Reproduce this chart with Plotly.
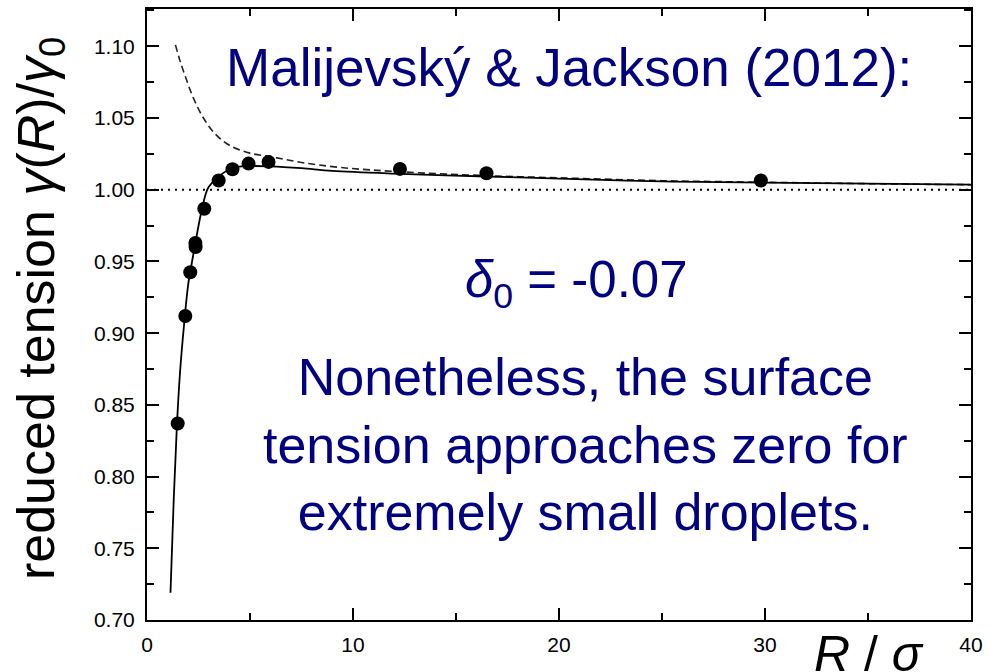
import plotly.graph_objects as go

# Simulation data: reduced surface tension vs droplet radius
R_sim = [1.49, 1.86, 2.10, 2.35, 2.36, 2.78, 3.48, 4.15, 4.93, 5.90, 12.28, 16.48, 29.80]
gamma_sim = [0.837, 0.912, 0.9425, 0.9628, 0.9600, 0.9867, 1.0064, 1.0143, 1.0182, 1.0194, 1.0145, 1.0115, 1.0064]

# Fitted curve (solid)
R_fit = [1.14, 1.30, 1.45, 1.60, 1.80, 2.00, 2.20, 2.40, 2.60, 2.85, 3.00, 3.50, 4.20,
         5.00, 6.00, 7.50, 9.00, 12.30, 16.50, 20.0, 25.0, 30.0, 35.0, 40.0]
gamma_fit = [0.719, 0.785, 0.835, 0.872, 0.906, 0.934, 0.951, 0.967, 0.982, 0.997, 1.002,
             1.0095, 1.0155, 1.0165, 1.0163, 1.0150, 1.0131, 1.0111, 1.0092, 1.0078,
             1.0058, 1.0050, 1.0042, 1.0035]

# Tolman-type asymptotic curve (dashed)
R_tol = [1.38, 1.60, 1.86, 2.25, 2.74, 3.30, 4.00, 5.00, 6.10, 7.50, 9.40, 12.3,
         16.5, 20.0, 25.0, 30.0, 35.0, 40.0]
gamma_tol = [1.101, 1.090, 1.079, 1.064, 1.050, 1.039, 1.031, 1.0255, 1.0228, 1.019,
             1.0155, 1.0125, 1.0098, 1.0083, 1.0063, 1.0052, 1.0042, 1.0035]

# Planar limit
R_ref = [0, 40]
gamma_ref = [1.0, 1.0]

x_ticks = [0, 10, 20, 30, 40]
y_ticks = [0.70, 0.75, 0.80, 0.85, 0.90, 0.95, 1.00, 1.05, 1.10]

FONT = "Arial, Liberation Sans, sans-serif"
NAVY = "#000080"

fig = go.Figure()
fig.add_trace(go.Scatter(x=R_ref, y=gamma_ref, mode="lines",
                         line=dict(color="black", width=2, dash="2px,5px")))
fig.add_trace(go.Scatter(x=R_tol, y=gamma_tol, mode="lines", line_shape="spline",
                         line=dict(color="#222222", width=1.6, dash="7px,4px")))
fig.add_trace(go.Scatter(x=R_fit, y=gamma_fit, mode="lines", line_shape="spline",
                         line=dict(color="black", width=1.8)))
fig.add_trace(go.Scatter(x=R_sim, y=gamma_sim, mode="markers",
                         marker=dict(color="black", size=14)))

axis_common = dict(
    showline=True, linecolor="black", linewidth=2, mirror="allticks",
    ticks="inside", ticklen=12, tickwidth=2, tickcolor="black",
    showgrid=False, zeroline=False,
    tickfont=dict(family=FONT, size=21, color="black"),
)

fig.update_xaxes(range=[0, 40], tickvals=x_ticks, ticktext=[str(v) for v in x_ticks],
                 minor=dict(dtick=5, ticks="inside", ticklen=7, tickwidth=2, tickcolor="black"),
                 ticklabelstandoff=5, **axis_common)
fig.update_yaxes(range=[0.70, 1.126], tickvals=y_ticks, ticktext=[f"{v:.2f}" for v in y_ticks],
                 minor=dict(dtick=0.025, ticks="inside", ticklen=7, tickwidth=2, tickcolor="black"),
                 ticklabelstandoff=6, **axis_common)

annotations = [
    dict(text="reduced tension <i>γ</i>(<i>R</i>)/<i>γ</i><sub>0</sub>", textangle=-90,
         x=-0.129, y=0.51, font=dict(size=52, color="black")),
    dict(text="<i>R</i> / <i>σ</i>", x=0.876, y=-0.055, font=dict(size=50, color="black")),
    dict(text="Malijevský &amp; Jackson (2012):", x=0.512, y=0.905,
         font=dict(size=53, color=NAVY)),
    dict(text="<i>δ</i><sub>0</sub> = -0.07", x=0.521, y=0.55,
         font=dict(size=51, color=NAVY)),
    dict(text="Nonetheless, the surface<br>tension approaches zero for<br>extremely small droplets.",
         x=0.532, y=0.288, font=dict(size=52, color=NAVY)),
]
for a in annotations:
    a.update(xref="paper", yref="paper", xanchor="center", yanchor="middle",
             showarrow=False, align="center")
    a["font"]["family"] = FONT

fig.update_layout(
    width=990, height=672,
    margin=dict(l=147, r=18, t=7, b=52),
    plot_bgcolor="white", paper_bgcolor="white",
    showlegend=False,
    annotations=annotations,
)

fig.write_html("out.html")
